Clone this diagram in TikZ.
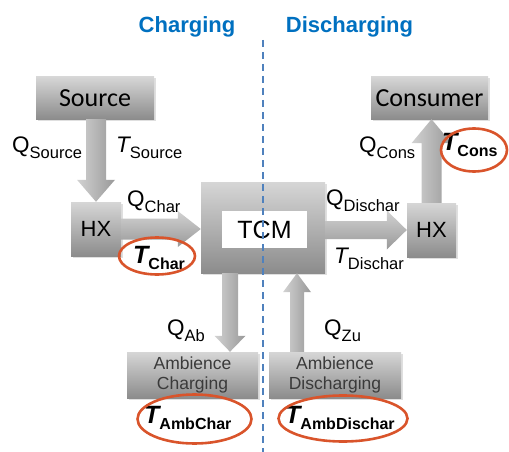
\documentclass[tikz,border=0pt]{standalone}
\usepackage{fontspec}
\setmainfont{Liberation Sans}
\newfontfamily\calib{Carlito}
\usetikzlibrary{calc,shadows,shapes.geometric}
\definecolor{titleblue}{HTML}{0070C0}
\definecolor{dashblue}{HTML}{4F81BD}
\definecolor{ringred}{HTML}{D9542B}
\definecolor{txtgray}{HTML}{3A3A3A}
\definecolor{bxtop}{HTML}{D6D6D6}
\definecolor{bxbot}{HTML}{8C8C8C}
\definecolor{artop}{HTML}{D2D2D2}
\definecolor{arbot}{HTML}{999999}

\newcommand\Qlab[2]{{\fontsize{22.5}{22.5}\selectfont #1}\raisebox{-6pt}{\fontsize{16.5}{16.5}\selectfont #2}}
\newcommand\Tlab[1]{{\fontsize{22.5}{22.5}\selectfont\itshape T}\raisebox{-6pt}{\fontsize{16.5}{16.5}\selectfont #1}}
\newcommand\TBlab[1]{{\fontsize{25}{25}\selectfont\bfseries\itshape T}\raisebox{-6pt}{\fontsize{16}{16}\selectfont\bfseries #1}}

% block arrow: #1 start, #2 tip, #3 shaft half width, #4 head half width, #5 head length, #6 style
\newcommand\blockarrow[6]{%
  \coordinate (ba-h) at ($(#2)!#5!(#1)$);
  \shade[#6] ($(#1)!#3!90:(#2)$) -- ($(ba-h)!#3!-90:(#1)$) -- ($(ba-h)!#4!-90:(#1)$) -- (#2)
    -- ($(ba-h)!#4!90:(#1)$) -- ($(ba-h)!#3!90:(#1)$) -- ($(#1)!#3!-90:(#2)$) -- cycle;}

\begin{document}
\begin{tikzpicture}[x=1pt,y=-1pt,
  gbox/.style={rectangle, inner sep=0pt, top color=bxtop, bottom color=bxbot,
    drop shadow={opacity=0.25, shadow xshift=1.5pt, shadow yshift=-1.5pt}},
  vshade/.style={left color=artop, right color=arbot},
  hshade/.style={top color=artop, bottom color=arbot},
  lab/.style={inner sep=0pt, anchor=base west, text=black},
  ring/.style={ellipse, draw=ringred, line width=2.6pt, inner sep=0pt},
  ttl/.style={font=\fontsize{22}{22}\selectfont\bfseries, text=titleblue, anchor=base, inner sep=0pt}]
\useasboundingbox (0,0) rectangle (509,452);

% titles
\node[ttl] (tchar) at (187,33) {Charging};
\node[ttl] (tdis) at (349.5,33) {Discharging};

% boxes
\node[gbox, minimum width=118pt, minimum height=42pt, font=\calib\fontsize{26}{26}\selectfont] (src) at (95,98) {Source};
\node[gbox, minimum width=117pt, minimum height=42pt, font=\calib\fontsize{26}{26}\selectfont] (cons) at (429.5,98) {Consumer};
\node[gbox, minimum width=50pt, minimum height=54pt, font=\fontsize{22}{22}\selectfont] (hxl) at (96,229) {HX};
\node[gbox, minimum width=49pt, minimum height=54pt, font=\fontsize{22}{22}\selectfont] (hxr) at (431.5,230) {HX};
\node[gbox, minimum width=124pt, minimum height=91pt] (tcm) at (263,227.5) {};
\node[fill=white, minimum width=85pt, minimum height=37pt, inner sep=0pt, font=\fontsize{25}{25}\selectfont] (tcmlab) at (264.5,229.5) {TCM};
\node[gbox, minimum width=131pt, minimum height=46pt, align=center, text=txtgray,
  font=\fontsize{17.5}{20}\selectfont] (ambc) at (192.5,375) {\raisebox{-2pt}{Ambience}\\\raisebox{-2pt}{Charging}};
\node[gbox, minimum width=132pt, minimum height=46pt, align=center, text=txtgray,
  font=\fontsize{17.5}{20}\selectfont] (ambd) at (335,375) {\raisebox{-2pt}{Ambience}\\\raisebox{-2pt}{Discharging}};

% block arrows
\coordinate (s1) at (src.south -| hxl.north);
\blockarrow{s1}{hxl.north}{10pt}{19pt}{22pt}{vshade}
\coordinate (c2) at (hxl.east -| tcm.west);
\blockarrow{hxl.east}{c2}{10.5pt}{18pt}{23pt}{hshade}
\coordinate (d1) at (tcm.east |- hxr.west);
\blockarrow{d1}{hxr.west}{9pt}{19.5pt}{20pt}{hshade}
\coordinate (k2) at (hxr.north |- cons.south);
\blockarrow{hxr.north}{k2}{10pt}{20pt}{24pt}{vshade}
\coordinate (ab1) at ($(tcm.south)+(-33,0)$);
\coordinate (ab2) at (ab1 |- ambc.north);
\blockarrow{ab1}{ab2}{8pt}{15.5pt}{16pt}{vshade}
\coordinate (zu2) at ($(tcm.south)+(34,0)$);
\coordinate (zu1) at (zu2 |- ambd.north);
\blockarrow{zu1}{zu2}{7pt}{14pt}{19pt}{vshade}

% dashed divider
\coordinate (dtop) at (263,40);
\coordinate (dbot) at (263,452);
\draw[dashblue, line width=2pt, dash pattern=on 7pt off 5pt] (dtop) -- (dbot);

% labels
\node[lab] (qsrc) at (12,152) {\Qlab{Q}{Source}};
\node[lab] (tsrc) at (116,152) {\Tlab{Source}};
\node[lab] (qchar) at (127,206) {\Qlab{Q}{Char}};
\node[lab] (tcharl) at (133,263) {\TBlab{Char}};
\node[lab] (qdis) at (326,205) {\Qlab{Q}{Dischar}};
\node[lab] (tdisl) at (334,263) {\Tlab{Dischar}};
\node[lab] (qcons) at (359,152) {\Qlab{Q}{Cons}};
\node[lab] (tconsl) at (442,150) {\TBlab{Cons}};
\node[lab] (qab) at (167,335) {\Qlab{Q}{Ab}};
\node[lab] (qzu) at (324,335) {\Qlab{Q}{Zu}};
\node[lab] (tambc) at (144,423) {\TBlab{AmbChar}};
\node[lab] (tambd) at (285,423) {\TBlab{AmbDischar}};

% rings
\node[ring, minimum width=76pt, minimum height=37pt] (rchar) at (157,256) {};
\node[ring, minimum width=66pt, minimum height=43pt] (rcons) at (474,150) {};
\node[ring, minimum width=114pt, minimum height=49pt] (rambc) at (194.5,419) {};
\node[ring, minimum width=129pt, minimum height=46pt] (rambd) at (343,418.5) {};
\end{tikzpicture}
\end{document}
